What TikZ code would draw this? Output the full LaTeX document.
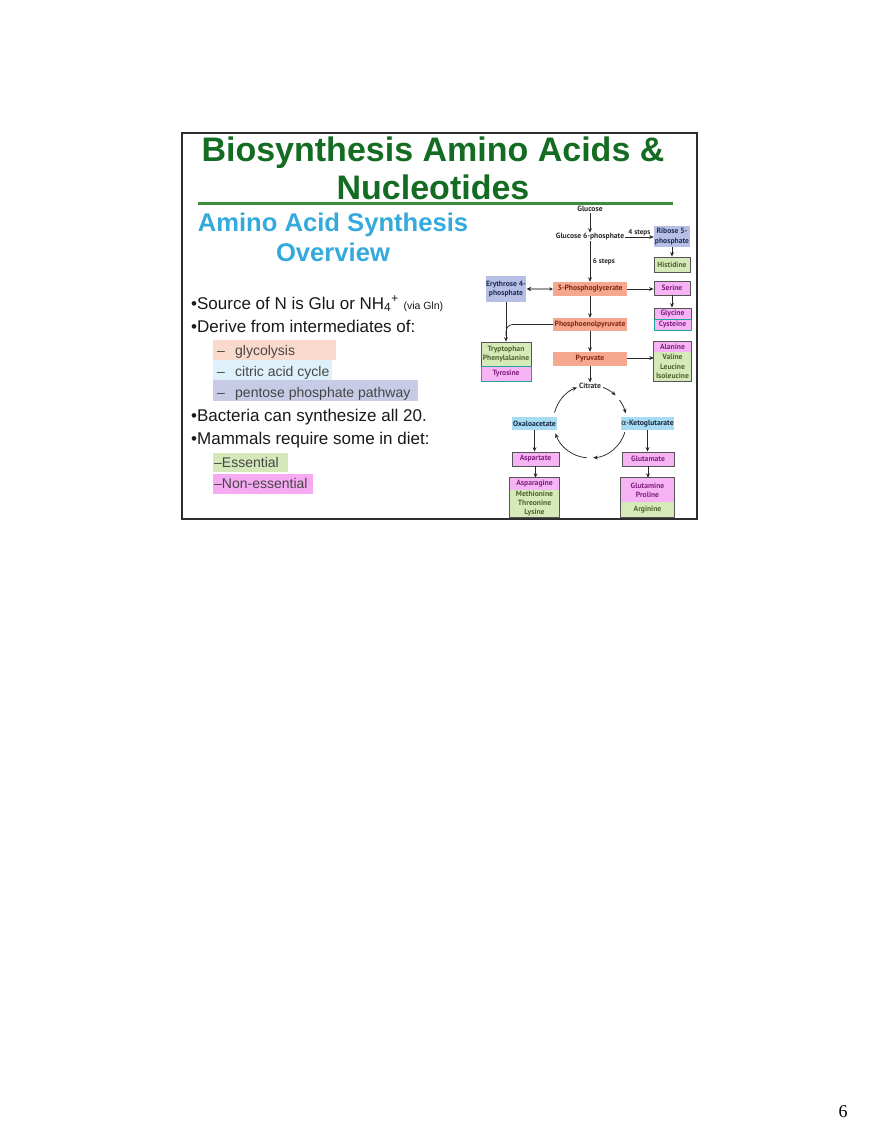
\documentclass[tikz,border=0pt]{standalone}
\usepackage{fontspec}
\setmainfont{Liberation Sans}
\newfontfamily\dfont{PT Sans}
\newfontfamily\greekfont{DejaVu Sans}
\newfontfamily\pnumfont{Liberation Serif}
\usetikzlibrary{arrows.meta}
\definecolor{titlegreen}{RGB}{20,108,34}
\definecolor{linegreen}{RGB}{60,140,60}
\definecolor{subblue}{RGB}{52,170,220}
\definecolor{glyco}{RGB}{251,218,206}
\definecolor{citric}{RGB}{222,240,249}
\definecolor{pent}{RGB}{200,203,230}
\definecolor{ess}{RGB}{212,232,186}
\definecolor{noness}{RGB}{245,170,242}
\definecolor{subtext}{RGB}{70,70,70}
\definecolor{framec}{RGB}{45,45,45}
\definecolor{salmon}{RGB}{246,168,143}
\definecolor{salmontext}{RGB}{130,40,20}
\definecolor{pinkc}{RGB}{246,180,244}
\definecolor{pinktext}{RGB}{128,30,128}
\definecolor{greenc}{RGB}{214,233,185}
\definecolor{greentext}{RGB}{78,100,45}
\definecolor{lavc}{RGB}{183,192,228}
\definecolor{lavtext}{RGB}{30,45,90}
\definecolor{cyanc}{RGB}{168,220,242}
\definecolor{cyantext}{RGB}{25,40,70}
\definecolor{tealb}{RGB}{30,165,155}
\definecolor{cellb}{RGB}{85,85,85}
\definecolor{arrowc}{RGB}{40,40,40}
\definecolor{freetext}{RGB}{40,40,40}
\begin{document}
\begin{tikzpicture}[x=1pt,y=-1pt,
  titletxt/.style={font=\bfseries\fontsize{34}{40}\selectfont, text=titlegreen, inner sep=0pt, anchor=base},
  subtxt/.style={font=\bfseries\fontsize{25.6}{30}\selectfont, text=subblue, inner sep=0pt, anchor=base},
  bul/.style={font=\fontsize{17}{20}\selectfont, text=black!90, inner sep=0pt, anchor=base west},
  subitem/.style={font=\fontsize{14}{16}\selectfont, text=subtext, inner sep=0pt, anchor=base west},
  hl/.style={inner sep=0pt, anchor=north west, draw=none},
  dg/.style={font=\dfont\bfseries\fontsize{7.6}{9.2}\selectfont, inner sep=0.6pt, align=center},
  free/.style={dg, text=freetext},
  salm/.style={dg, fill=salmon, text=salmontext, minimum width=74pt, minimum height=14pt},
  lavbox/.style={dg, fill=lavc, text=lavtext},
  cyanbox/.style={dg, fill=cyanc, text=cyantext},
  pinkbox/.style={dg, fill=pinkc, text=pinktext, draw=cellb, line width=0.8pt},
  greenbox/.style={dg, fill=greenc, text=greentext, draw=cellb, line width=0.8pt},
  pinkcell/.style={dg, fill=pinkc, text=pinktext},
  greencell/.style={dg, fill=greenc, text=greentext},
  tealcell/.style={dg, fill=pinkc, text=pinktext, draw=tealb, line width=1pt},
  outline/.style={draw=cellb, line width=0.8pt},
  arr/.style={draw=arrowc, line width=0.75pt, -{Stealth[length=4.5pt,width=3.8pt]}},
  lbl/.style={font=\dfont\bfseries\fontsize{7.2}{8}\selectfont, text=freetext, inner sep=0.5pt}
]
\fill[white] (0,0) rectangle (880,1139);
\useasboundingbox (0,0) rectangle (880,1139);

% slide frame
\draw[framec, line width=2pt] (182,133) rectangle (697,519);

% title
\node[titletxt] (t1) at (433,161.5) {Biosynthesis Amino Acids \&};
\node[titletxt] (t2) at (433,199.5) {Nucleotides};
\coordinate (tl1) at (198,203.5);
\coordinate (tl2) at (673,203.5);
\draw[linegreen, line width=2.6pt] (tl1) -- (tl2);

% subtitle
\node[subtxt] (s1) at (333,232) {Amino Acid Synthesis};
\node[subtxt] (s2) at (333,262) {Overview};

% highlight boxes
\node[hl, fill=glyco, minimum width=123pt, minimum height=20pt] (hg) at (213,340) {};
\node[hl, fill=citric, minimum width=119pt, minimum height=20pt] (hc) at (213,360) {};
\node[hl, fill=pent, minimum width=205pt, minimum height=21pt] (hp) at (213,380) {};
\node[hl, fill=ess, minimum width=75pt, minimum height=19pt] (he) at (213,453) {};
\node[hl, fill=noness, minimum width=100pt, minimum height=20pt] (hn) at (213,474) {};

% bullets
\node[bul] (b1) at (191,309) {•Source of N is Glu or NH\textsubscript{4}\textsuperscript{+} {\fontsize{10.5}{12}\selectfont (via Gln)}};
\node[bul] (b2) at (191,332) {•Derive from intermediates of:};
\node[subitem] (i1) at (217,355) {\makebox[18pt][l]{–}glycolysis};
\node[subitem] (i2) at (217,376) {\makebox[18pt][l]{–}citric acid cycle};
\node[subitem] (i3) at (217,397) {\makebox[18pt][l]{–}pentose phosphate pathway};
\node[bul] (b3) at (191,421) {•Bacteria can synthesize all 20.};
\node[bul] (b4) at (191,444) {•Mammals require some in diet:};
\node[subitem] (i4) at (214,467) {–Essential};
\node[subitem] (i5) at (214,488) {–Non-essential};

% ---------- pathway diagram ----------
\node[free] (glc) at (590,209) {Glucose};
\node[free] (g6p) at (590,237) {Glucose 6-phosphate};
\node[lavbox, minimum width=36pt, minimum height=21pt] (rib) at (672,236.5) {Ribose 5-\\phosphate};
\node[greenbox, minimum width=36pt, minimum height=15pt] (his) at (672,264.5) {Histidine};
\node[lavbox, minimum width=40pt, minimum height=26pt] (e4p) at (506,289) {Erythrose 4-\\phosphate};
\node[salm] (pg) at (590,289) {3-Phosphoglycerate};
\node[pinkbox, minimum width=36pt, minimum height=14pt] (ser) at (672,288) {Serine};
\node[pinkcell, outline, minimum width=37pt, minimum height=11pt] (gly) at (672.5,313.5) {Glycine};
\node[tealcell, minimum width=37pt, minimum height=11pt] (cys) at (672.5,324.5) {Cysteine};
\node[salm, minimum height=13pt] (pep) at (590,324.5) {Phosphoenolpyruvate};
\node[salm] (pyr) at (590,359) {Pyruvate};
\node[greencell, outline, minimum width=50pt, minimum height=24pt] (trp) at (506,354) {Tryptophan\\Phenylalanine};
\node[tealcell, minimum width=50pt, minimum height=15pt] (tyr) at (506,373.5) {Tyrosine};
\node[pinkcell, minimum width=37pt, minimum height=10pt] (ala) at (672.5,347) {Alanine};
\node[greencell, minimum width=37pt, minimum height=29pt] (val) at (672.5,366.5) {Valine\\Leucine\\Isoleucine};
\draw[outline] (ala.north west) rectangle (val.south east);
\node[free] (cit) at (590,386) {Citrate};
\node[cyanbox, minimum width=45pt, minimum height=13pt] (oaa) at (534.5,423.5) {Oxaloacetate};
\node[cyanbox, minimum width=53pt, minimum height=13pt] (akg) at (647.5,423.5) {{\greekfont\mdseries α}-Ketoglutarate};
\node[pinkbox, minimum width=47pt, minimum height=14pt] (asp) at (535.5,459) {Aspartate};
\node[pinkcell, minimum width=49pt, minimum height=12pt] (asn) at (534.5,484) {Asparagine};
\node[greencell, minimum width=49pt, minimum height=27pt] (met) at (534.5,503.5) {Methionine\\Threonine\\Lysine};
\draw[outline] (asn.north west) rectangle (met.south east);
\node[pinkbox, minimum width=52pt, minimum height=14pt] (glu) at (648,459) {Glutamate};
\node[pinkcell, minimum width=53pt, minimum height=24pt] (gln) at (647.5,490) {Glutamine\\Proline};
\node[greencell, minimum width=53pt, minimum height=15pt] (arg) at (647.5,509.5) {Arginine};
\draw[outline] (gln.north west) rectangle (arg.south east);

% straight connectors
\draw[arr] (glc.south) -- (g6p.north);
\draw[arr] (g6p.east) -- node[lbl, above=0.5pt] (l4) {4 steps} (g6p.east -| rib.west);
\draw[arr] (rib.south) -- (his.north);
\draw[arr] (g6p.south) -- node[lbl, right=2pt] (l6) {6 steps} (pg.north);
\draw[arr] (pg.east) -- (pg.east -| ser.west);
\draw[arr] (ser.south) -- (ser.south |- gly.north);
\draw[arr] (pg.south) -- (pep.north);
\draw[arr] (pep.south) -- (pyr.north);
\draw[arr] ([yshift=1pt]pyr.east) -- ([yshift=1pt]pyr.east -| ala.west);
\draw[arr] (pyr.south) -- (cit.north);
\draw[arr] (oaa.south) -- (oaa.south |- asp.north);
\draw[arr] (asp.south) -- (asp.south |- asn.north);
\draw[arr] (akg.south) -- (akg.south |- glu.north);
\draw[arr] (glu.south) -- (glu.south |- gln.north);

% erythrose / 3-PG exchange
\draw[draw=gray!75, line width=1.8pt,
  {Stealth[length=4.5pt,width=4.5pt,color=arrowc]}-{Stealth[length=3.5pt,width=3.5pt,color=arrowc]}]
  (e4p.east) -- (e4p.east -| pg.west);

% erythrose and PEP into aromatic amino acids
\coordinate (join) at (506,336);
\draw[arr] (e4p.south) -- (trp.north);
\draw[draw=arrowc, line width=0.75pt, rounded corners=7pt] (pep.west) -| (join);

% citric acid cycle
\coordinate (cyc) at (590,421.5);
\draw[arr] (cyc) ++(-69:36.5) arc[start angle=-69, end angle=-45.5, radius=36.5];
\draw[arr] (cyc) ++(-36:36.5) arc[start angle=-36, end angle=-13, radius=36.5];
\draw[arr] (cyc) ++(17:36.5) arc[start angle=17, end angle=85, radius=36.5];
\draw[arr] (cyc) ++(95:36.5) arc[start angle=95, end angle=161, radius=36.5];
\draw[arr] (cyc) ++(-166:36.5) arc[start angle=-166, end angle=-111, radius=36.5];

% page number
\node[font=\pnumfont\fontsize{18}{20}\selectfont, inner sep=0pt] (pnum) at (843,1112) {6};
\end{tikzpicture}
\end{document}
